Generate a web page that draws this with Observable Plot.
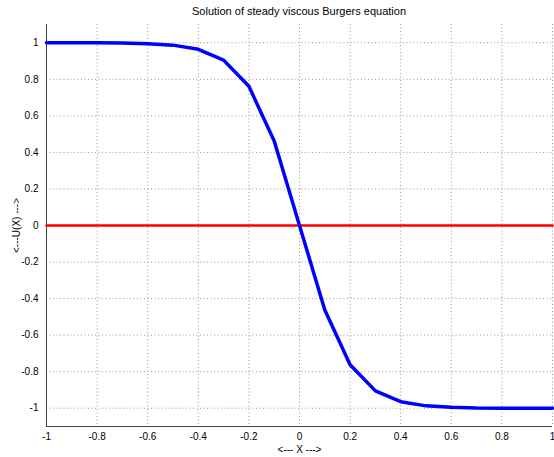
<!DOCTYPE html>
<html><head><meta charset="utf-8">
<script src="https://cdn.jsdelivr.net/npm/d3@7"></script>
<script src="https://cdn.jsdelivr.net/npm/@observablehq/plot@0.6"></script>
<style>
body{margin:0;background:#fff;font-family:"Liberation Sans",Arial,sans-serif;}
#title{height:20px;width:554px;font-size:11px;line-height:22px;color:#000;position:relative}
#title span{position:absolute;left:299px;transform:translateX(-50%);white-space:nowrap}
</style></head>
<body>
<div id="title"><span>Solution of steady viscous Burgers equation</span></div>
<div id="chart"></div>
<script>
const xs = [-1.0,-0.9,-0.8,-0.7,-0.6,-0.5,-0.4,-0.3,-0.2,-0.1,0.0,0.1,0.2,0.3,0.4,0.5,0.6,0.7,0.8,0.9,1.0];
const us = [1.000,1.000,1.000,0.999,0.995,0.987,0.964,0.905,0.762,0.462,0.0,-0.462,-0.762,-0.905,-0.964,-0.987,-0.995,-0.999,-1.000,-1.000,-1.000];
const refX = [-1, 1];
const refU = [0, 0];
const xTicks = [-1,-0.8,-0.6,-0.4,-0.2,0,0.2,0.4,0.6,0.8,1];
const yTicks = [-1,-0.8,-0.6,-0.4,-0.2,0,0.2,0.4,0.6,0.8,1];

const sol = xs.map((x,i)=>({x, u: us[i]}));
const ref = refX.map((x,i)=>({x, u: refU[i]}));
const fmt = d => String(+(+d).toFixed(1));

const plot = Plot.plot({
  width: 554, height: 437,
  marginLeft: 46, marginRight: 2, marginTop: 4, marginBottom: 31,
  style: {fontFamily: '"Liberation Sans", Arial, sans-serif', fontSize: "10px", color: "#000", background: "#fff"},
  x: {domain: [-1, 1]},
  y: {domain: [-1.1, 1.1]},
  marks: [
    Plot.gridX(xTicks, {stroke: "#999", strokeOpacity: 1, strokeDasharray: "1,2.5"}),
    Plot.gridY(yTicks, {stroke: "#999", strokeOpacity: 1, strokeDasharray: "1,2.5"}),
    Plot.axisX(xTicks, {tickSize: 0, tickPadding: 6, tickFormat: fmt, label: "<--- X --->", labelAnchor: "center", labelArrow: "none", labelOffset: 26, fontSize: 10}),
    Plot.axisY(yTicks, {tickSize: 0, tickPadding: 8, tickFormat: fmt, label: "<---U(X) --->", labelAnchor: "center", labelArrow: "none", labelOffset: 34, fontSize: 10}),
    Plot.ruleX([-1], {stroke: "#444", strokeWidth: 1}),
    Plot.ruleY([-1.1], {stroke: "#444", strokeWidth: 1}),
    Plot.line(ref, {x: "x", y: "u", stroke: "#ff0000", strokeWidth: 2.5}),
    Plot.line(sol, {x: "x", y: "u", stroke: "#0000ff", strokeWidth: 3.5, strokeLinejoin: "miter"})
  ]
});
document.getElementById("chart").appendChild(plot);
</script>
</body></html>
